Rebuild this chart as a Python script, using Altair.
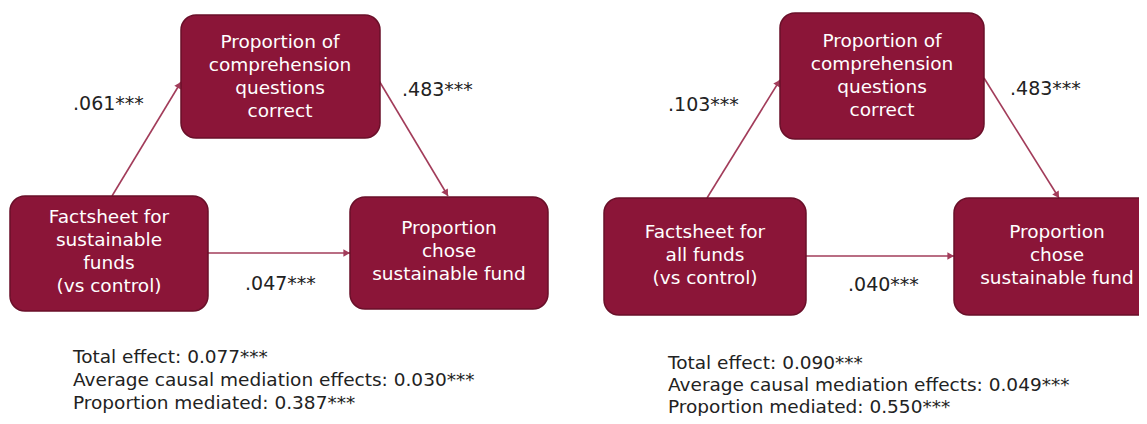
import math
import altair as alt
import pandas as pd

# ---------------- data ----------------
panels = ["Factsheet for sustainable funds", "Factsheet for all funds"]
exposure_labels = ["Factsheet for\nsustainable\nfunds\n(vs control)",
                   "Factsheet for\nall funds\n(vs control)"]
mediator_labels = ["Proportion of\ncomprehension\nquestions\ncorrect"] * 2
outcome_labels = ["Proportion\nchose\nsustainable fund"] * 2
path_a = [".061***", ".103***"]          # exposure -> mediator
path_b = [".483***", ".483***"]          # mediator -> outcome
path_c = [".047***", ".040***"]          # direct effect
total_effect = ["0.077***", "0.090***"]
acme = ["0.030***", "0.049***"]
prop_mediated = ["0.387***", "0.550***"]

# ---------------- layout (page pixel coordinates) ----------------
# boxes: x1, x2, y1, y2, text-centre x, text-centre y
exp_box = [(10, 208, 196, 311, 109, 251), (604, 806, 198, 315, 705, 255)]
med_box = [(181, 380, 15, 138, 280, 76), (780, 984, 13, 139, 882, 75)]
out_box = [(350, 548, 197, 309, 449, 251), (954, 1170, 198, 315, 1057, 255)]
LINE_H = 23
# arrows: x1, y1, x2, y2 (tip at x2, y2)
arr_a = [(112, 196, 181, 82), (707, 198, 780, 80)]
arr_b = [(378, 79, 448, 196), (984, 78, 1059, 198)]
arr_c = [(208, 253, 350, 253), (806, 256, 954, 256)]
# coefficient labels: left x, centre y
lab_a = [(73, 104), (668, 105)]
lab_b = [(402, 90), (1010, 89)]
lab_c = [(245, 284), (848, 285)]
# summary text: left x, first line y, line step
summ = [(73, 357, 23), (668, 363, 22)]

FILL = "#8B1538"
EDGE = "#6A0F29"
ARROW = "#A23C5A"
INK = "#222222"
FONT = "DejaVu Sans"

W, H = 1131, 408
xs = alt.Scale(domain=[8, 8 + W], nice=False, zero=False)
ys = alt.Scale(domain=[8 + H, 8], nice=False, zero=False)


def X(f):
    return alt.X(f, type="quantitative", scale=xs, axis=None)


def Y(f):
    return alt.Y(f, type="quantitative", scale=ys, axis=None)


box_rows, line_rows, arrow_rows, head_rows, lab_rows, sum_rows = [], [], [], [], [], []
for i in range(2):
    for box, lab in ((exp_box[i], exposure_labels[i]),
                     (med_box[i], mediator_labels[i]),
                     (out_box[i], outcome_labels[i])):
        box_rows.append(dict(x1=box[0], x2=box[1], y1=box[2], y2=box[3]))
        parts = lab.split("\n")
        n = len(parts)
        for k, p in enumerate(parts):
            line_rows.append(dict(tx=box[4],
                                  ty=box[5] + (k - (n - 1) / 2) * LINE_H,
                                  text=p))
    for a in (arr_a[i], arr_b[i], arr_c[i]):
        arrow_rows.append(dict(x1=a[0], y1=a[1], x2=a[2], y2=a[3]))
        dx, dy = a[2] - a[0], a[3] - a[1]
        n = math.hypot(dx, dy)
        ang = math.degrees(math.atan2(dx, -dy)) % 360
        back = 3.3
        head_rows.append(dict(hx=a[2] - dx / n * back, hy=a[3] - dy / n * back,
                              ang=ang))
    for pos, txt in ((lab_a[i], path_a[i]), (lab_b[i], path_b[i]),
                     (lab_c[i], path_c[i])):
        lab_rows.append(dict(lx=pos[0], ly=pos[1], text=txt))
    x0, y0, step = summ[i]
    lines = ["Total effect: " + total_effect[i],
             "Average causal mediation effects: " + acme[i],
             "Proportion mediated: " + prop_mediated[i]]
    for k, t in enumerate(lines):
        sum_rows.append(dict(sx=x0, sy=y0 + k * step, text=t))

boxes_df = pd.DataFrame(box_rows)
lines_df = pd.DataFrame(line_rows)
arrows_df = pd.DataFrame(arrow_rows)
heads_df = pd.DataFrame(head_rows)
labs_df = pd.DataFrame(lab_rows)
sums_df = pd.DataFrame(sum_rows)

arrows = alt.Chart(arrows_df).mark_rule(color=ARROW, strokeWidth=1.6).encode(
    x=X("x1"), y=Y("y1"), x2="x2", y2="y2")

heads = alt.Chart(heads_df).mark_point(
    shape="triangle-up", filled=True, size=58, color=ARROW, opacity=1
).encode(x=X("hx"), y=Y("hy"),
         angle=alt.Angle("ang", type="quantitative", scale=None))

boxes = alt.Chart(boxes_df).mark_rect(
    cornerRadius=15, color=FILL, stroke=EDGE, strokeWidth=1.5
).encode(x=X("x1"), x2="x2", y=Y("y1"), y2="y2")

box_text = alt.Chart(lines_df).mark_text(
    align="center", baseline="middle",
    fontSize=18.5, font=FONT, color="white"
).encode(x=X("tx"), y=Y("ty"), text="text:N")

coef = alt.Chart(labs_df).mark_text(
    align="left", baseline="middle", fontSize=19, font=FONT, color=INK
).encode(x=X("lx"), y=Y("ly"), text="text:N")

summary = alt.Chart(sums_df).mark_text(
    align="left", baseline="middle", fontSize=18.5, font=FONT, color=INK
).encode(x=X("sx"), y=Y("sy"), text="text:N")

chart = alt.layer(arrows, heads, boxes, box_text, coef, summary).properties(
    width=W, height=H, padding=0, autosize="none", background="white"
).configure_view(stroke=None)

chart.save("out.html", embed_options={"renderer": "svg", "actions": False})
